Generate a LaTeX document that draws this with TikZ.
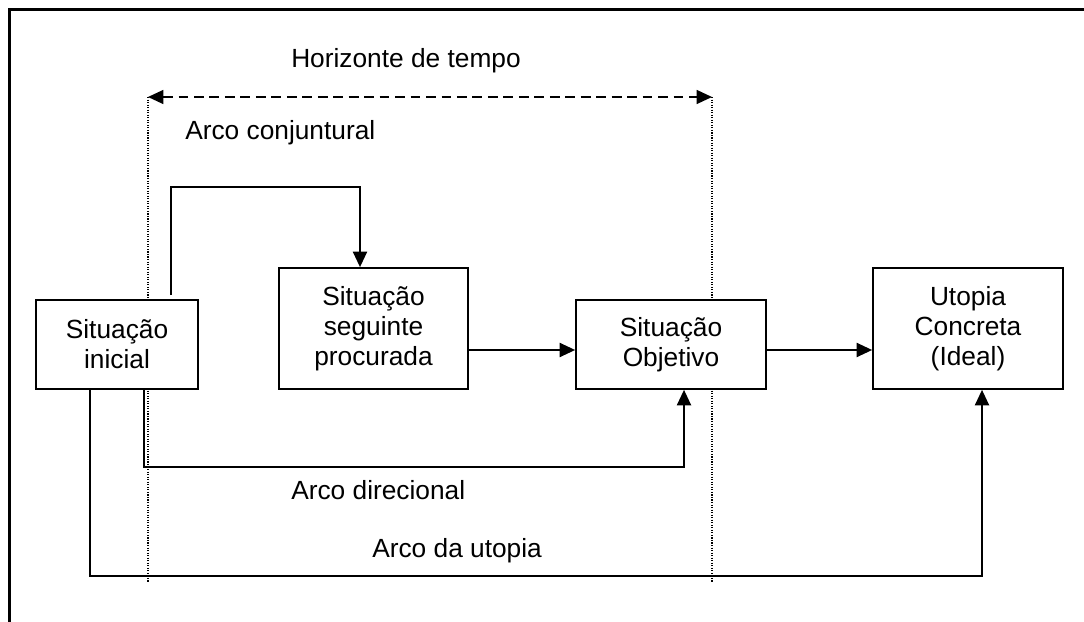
\documentclass[tikz,border=0pt]{standalone}
\usepackage{fontspec}
\setmainfont{Liberation Sans}
\usepackage{tikz}
\tikzstyle{block}=[draw, fill=white, line width=1.2pt, align=center, inner sep=0pt]
\tikzstyle{arrow}=[line width=1.3pt,->,>={Triangle[length=11pt,width=10pt]}]
\tikzstyle{guide}=[line width=0.8pt, dash pattern=on 0.8pt off 1pt]
\tikzstyle{txt}=[inner sep=0pt]
\usetikzlibrary{arrows.meta,positioning,calc}

\begin{document}
\begin{tikzpicture}[x=0.025cm,y=-0.025cm,font=\fontsize{18.7pt}{21.3pt}\selectfont]
\useasboundingbox (0,0) rectangle (1084,622);
\draw[line width=2.8pt] (1084,9.5) -- (9.5,9.5) -- (9.5,622);

% horizonte de tempo
\coordinate (hl) at (148,97);
\coordinate (hr) at (712,97);
\draw[guide] (hl) -- (hl|-0,582);
\draw[guide] (hr) -- (hr|-0,582);
\draw[line width=1.1pt,dash pattern=on 7pt off 4pt,<->,>={Triangle[length=11pt,width=10pt]}] (hl) -- (hr);
\node (ht) [txt,anchor=base] at (406,68) {Horizonte de tempo};

\node (b1) [block,minimum width=4.05cm,minimum height=2.225cm] at (117,344.5) {Situação\\inicial};
\node (b2) [block,minimum width=4.725cm,minimum height=3.025cm] at (373.5,328.5) {Situação\\seguinte\\procurada};
\node (b3) [block,minimum width=4.75cm,minimum height=2.225cm] at (671,344.5) {Situação\\Objetivo};
\node (b4) [block,minimum width=4.75cm,minimum height=3.025cm] at (968,328.5) {Utopia\\Concreta\\(Ideal)};

\coordinate (m) at (0,350);
\draw[arrow] (b2.east|-m) -- (b3.west|-m);
\draw[arrow] (b3.east|-m) -- (b4.west|-m);

% arcos
\coordinate (cj) at (360,187);
\draw[arrow] ($(b1.north)+(54,-4)$) |- (cj) -- (cj|-b2.north);
\node (acj) [txt,anchor=base west] at (185,140) {Arco conjuntural};

\coordinate (dr) at (684,467);
\draw[arrow] ($(b1.south)+(27,0)$) |- (dr) -- (dr|-b3.south);
\node (adr) [txt,anchor=base west] at (291,499) {Arco direcional};

\coordinate (ut) at (982,576);
\draw[arrow] ($(b1.south)+(-27,0)$) |- (ut) -- (ut|-b4.south);
\node (aut) [txt,anchor=base west] at (372,557) {Arco da utopia};

\end{tikzpicture}
\end{document}
